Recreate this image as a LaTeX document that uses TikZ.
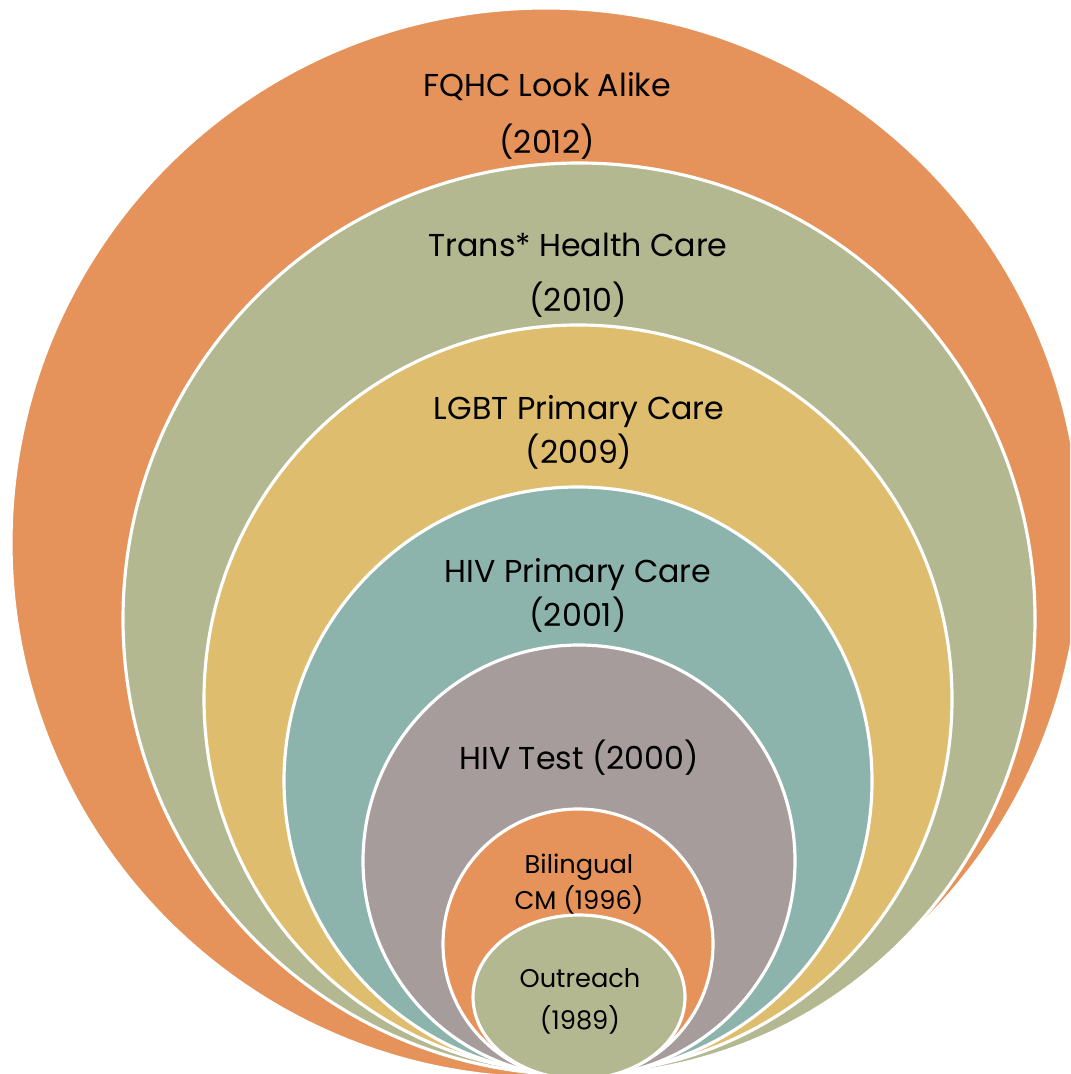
\documentclass[tikz,border=0pt]{standalone}
\usepackage{fontspec}
\setmainfont{Poppins}
\usetikzlibrary{positioning}
\definecolor{ringorange}{HTML}{E5935A}
\definecolor{ringolive}{HTML}{B3B891}
\definecolor{ringyellow}{HTML}{DFBD6E}
\definecolor{ringteal}{HTML}{8CB4AC}
\definecolor{ringgray}{HTML}{A69C9B}

\tikzset{
  ring/.style={fill=#1, draw=white, line width=0.9pt},
  lbl/.style={font=\fontsize{9}{11}\selectfont, inner sep=0pt, text=black},
  smalllbl/.style={font=\fontsize{7.3}{9}\selectfont, inner sep=0pt, text=black}
}

\begin{document}
\begin{tikzpicture}[x=0.01cm, y=-0.01cm]
  \clip (0,0) rectangle (1070,1074);
  \fill[white] (0,0) rectangle (1070,1074);

  % rings, outermost first
  \draw[ring=ringorange] (546,543) circle (535);
  \draw[ring=ringolive]  (579,619) circle (456);
  \draw[ring=ringyellow] (578,699) circle (374);
  \draw[ring=ringteal]   (578,781) circle (294);
  \draw[ring=ringgray]   (579,861) circle (216);
  \draw[ring=ringorange] (578,944) circle (135);
  \draw[ring=ringolive]  (579,997) ellipse (106 and 82);

  \node[lbl] (fqhc)    at (547,87)  {FQHC Look Alike};
  \node[lbl] (fqhcyr)  at (547,142) {(2012)};
  \node[lbl] (trans)   at (578,245) {Trans* Health Care};
  \node[lbl] (transyr) at (578,300) {(2010)};
  \node[lbl] (lgbt)    at (579,412) {LGBT Primary Care};
  \node[lbl] (lgbtyr)  at (579,452) {(2009)};
  \node[lbl] (hivpc)   at (578,575) {HIV Primary Care};
  \node[lbl] (hivpcyr) at (578,615) {(2001)};
  \node[lbl] (hivtest) at (579,758) {HIV Test (2000)};

  \node[smalllbl] (bling)   at (579,867)  {Bilingual};
  \node[smalllbl] (blingyr) at (579,900)  {CM (1996)};
  \node[smalllbl] (outr)    at (580,978)  {Outreach};
  \node[smalllbl] (outryr)  at (580,1020) {(1989)};
\end{tikzpicture}
\end{document}
